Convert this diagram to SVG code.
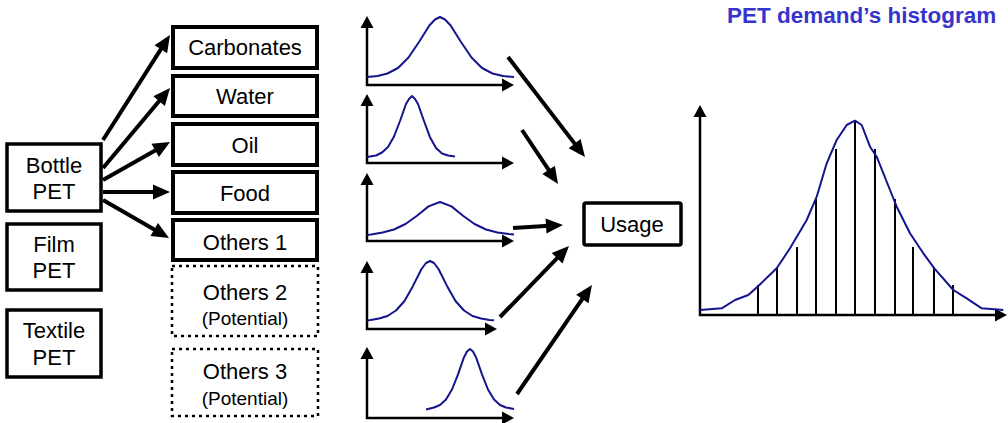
<svg xmlns="http://www.w3.org/2000/svg" width="1008" height="423" viewBox="0 0 1008 423">
<style>
.box{fill:#fff;stroke:#000;stroke-width:4}
.lbox{fill:#fff;stroke:#000;stroke-width:3.5}
.dbox{fill:#fff;stroke:#000;stroke-width:2.5;stroke-dasharray:3 4}
.t{font-family:"Liberation Sans",Arial,sans-serif;font-size:22px;fill:#000;text-anchor:middle}
.s{font-size:19px}
.conn{stroke:#000;stroke-width:4;fill:none;marker-end:url(#ah)}
.axis{stroke:#000;stroke-width:2.5;fill:none;marker-end:url(#ax)}
.curve{stroke:#14148c;stroke-width:2;fill:none;stroke-linejoin:round}
.bar{stroke:#000;stroke-width:2}
.title{font-family:"Liberation Sans",Arial,sans-serif;font-size:22.5px;font-weight:bold;fill:#3535cc}
</style>
<defs>
<marker id="ah" markerUnits="userSpaceOnUse" markerWidth="17" markerHeight="15" refX="7" refY="7.5" orient="auto" overflow="visible">
<path d="M0,0 L17,7.5 L0,15 z" fill="#000"/>
</marker>
<marker id="ax" markerUnits="userSpaceOnUse" markerWidth="13" markerHeight="13" refX="6" refY="6.5" orient="auto" overflow="visible">
<path d="M0,0 L12,6.5 L0,13 z" fill="#000"/>
</marker>
</defs>

<text class="title" x="727" y="23">PET demand’s histogram</text>

<g id="connectors">
<line class="conn" x1="103" y1="140" x2="164.6" y2="43.4"/>
<line class="conn" x1="103" y1="168" x2="163.6" y2="95.7"/>
<line class="conn" x1="103" y1="180" x2="161.3" y2="146.9"/>
<line class="conn" x1="103" y1="192" x2="160" y2="192"/>
<line class="conn" x1="103" y1="200" x2="160.3" y2="233"/>
<line class="conn" x1="508" y1="57" x2="578.9" y2="149.1"/>
<line class="conn" x1="522" y1="130" x2="552.5" y2="175.7"/>
<line class="conn" x1="513" y1="228" x2="553" y2="225.6"/>
<line class="conn" x1="500" y1="317" x2="562" y2="253.2"/>
<line class="conn" x1="517" y1="394" x2="586.3" y2="293.2"/>
</g>

<g id="bottle-pet">
<rect class="lbox" x="7" y="144" width="94" height="67"/>
<text class="t" x="54" y="173">Bottle</text>
<text class="t" x="54" y="199">PET</text>
</g>
<g id="film-pet">
<rect class="lbox" x="7" y="224" width="94" height="66"/>
<text class="t" x="54" y="252">Film</text>
<text class="t" x="54" y="278">PET</text>
</g>
<g id="textile-pet">
<rect class="lbox" x="7" y="310" width="94" height="67"/>
<text class="t" x="54" y="338">Textile</text>
<text class="t" x="54" y="365">PET</text>
</g>

<g id="carbonates">
<rect class="box" x="173" y="27" width="144" height="41"/>
<text class="t" x="245" y="55">Carbonates</text>
</g>
<g id="water">
<rect class="box" x="173" y="76" width="144" height="40"/>
<text class="t" x="245" y="104">Water</text>
</g>
<g id="oil">
<rect class="box" x="173" y="124" width="144" height="41"/>
<text class="t" x="245" y="153">Oil</text>
</g>
<g id="food">
<rect class="box" x="173" y="172" width="144" height="41"/>
<text class="t" x="245" y="201">Food</text>
</g>
<g id="others1">
<rect class="box" x="173" y="220" width="144" height="40"/>
<text class="t" x="245" y="250">Others 1</text>
</g>
<g id="others2">
<rect class="dbox" x="172" y="266" width="146" height="70"/>
<text class="t" x="245" y="300">Others 2</text>
<text class="t s" x="245" y="325">(Potential)</text>
</g>
<g id="others3">
<rect class="dbox" x="172" y="349" width="146" height="67"/>
<text class="t" x="245" y="379">Others 3</text>
<text class="t s" x="245" y="405">(Potential)</text>
</g>

<g id="usage">
<rect x="584" y="203" width="97" height="42" rx="2" fill="#fff" stroke="#000" stroke-width="3.5"/>
<text class="t" x="632" y="232">Usage</text>
</g>

<g id="chart1">
<line class="axis" x1="367" y1="86" x2="367" y2="22"/>
<line class="axis" x1="366" y1="85" x2="508" y2="85"/>
<polyline class="curve" points="367,77 377.5,76 387.5,73.5 398,68 408.5,57.5 419,42 429.5,25.2 435,19.5 440,17 445,19.5 450.5,25.2 461,42 471.5,57.5 482,68 492.5,73.5 503,76 514,77"/>
</g>
<g id="chart2">
<line class="axis" x1="367" y1="164" x2="367" y2="100"/>
<line class="axis" x1="366" y1="163" x2="508" y2="163"/>
<polyline class="curve" points="367,157 376,155.5 382,152.5 388,147 394,136.5 400,121 406,104 409,99 412,96 415,99 418,104 424,121 430,137.2 436,148 442,153.5 448,155.5 455,156.5"/>
</g>
<g id="chart3">
<line class="axis" x1="367" y1="242" x2="367" y2="179"/>
<line class="axis" x1="366" y1="241" x2="508" y2="241"/>
<polyline class="curve" points="367,235 371,234.5 382.5,232.5 394,229.5 405.5,224 417,215.7 428.5,206.4 440,202 451.5,206.4 463,215.7 474.5,224 486,229.5 497.5,232.5 509,234 514,234.5"/>
</g>
<g id="chart4">
<line class="axis" x1="367" y1="330" x2="367" y2="267"/>
<line class="axis" x1="366" y1="329" x2="491" y2="329"/>
<polyline class="curve" points="367,320.5 370.5,320 379,318.5 387.5,316 396,310.5 404.5,301 413,285.9 421.5,269 426,263 430,261 434,263 438.5,269 447,285.9 455.5,301 464,310.5 472.5,316 481,318.5 489.5,320 494,320.3"/>
</g>
<g id="chart5">
<line class="axis" x1="367" y1="419" x2="367" y2="353"/>
<line class="axis" x1="366" y1="418" x2="508" y2="418"/>
<polyline class="curve" points="426,409.5 434,407.5 440,405 446,399.5 452,389.5 458,374.3 464,357.2 467,351.5 470,349 473,351.5 476,357.2 482,374.3 488,389.5 494,399.5 500,405 506,407.5 514,409"/>
</g>

<g id="histogram">
<line class="axis" x1="700" y1="316" x2="700" y2="111"/>
<line class="axis" x1="699" y1="315" x2="1001" y2="315"/>
<line class="bar" x1="758" y1="315" x2="758" y2="285"/>
<line class="bar" x1="777" y1="315" x2="777" y2="267"/>
<line class="bar" x1="797" y1="315" x2="797" y2="247"/>
<line class="bar" x1="816" y1="315" x2="816" y2="199"/>
<line class="bar" x1="836" y1="315" x2="836" y2="149"/>
<line class="bar" x1="855" y1="315" x2="855" y2="120"/>
<line class="bar" x1="875" y1="315" x2="875" y2="149"/>
<line class="bar" x1="895" y1="315" x2="895" y2="199"/>
<line class="bar" x1="913" y1="315" x2="913" y2="247"/>
<line class="bar" x1="934" y1="315" x2="934" y2="267"/>
<line class="bar" x1="953" y1="315" x2="953" y2="285"/>
<polyline class="curve" points="700,310 721.7,308.3 735,300 748.3,295 758.3,286 776.7,268.3 790,248.3 806.7,220 816.7,196.7 826.7,163.3 836.7,140 846.7,125 855,120.7 861.7,125 870,146.7 876.7,156.7 890,190 896.7,206.7 910,233.3 923.3,253.3 934.3,268.3 953.3,290 966.7,298.3 981.7,308.3 1003.3,310"/>
</g>
</svg>
